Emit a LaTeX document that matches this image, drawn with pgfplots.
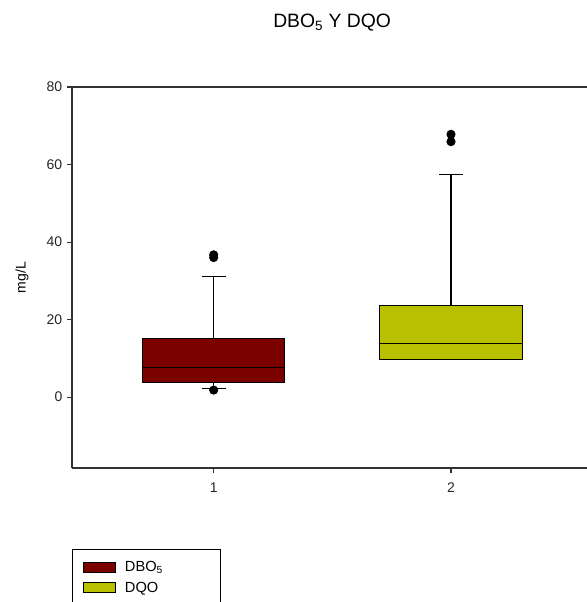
\documentclass[border=0pt]{standalone}
\usepackage{pgfplots}
\pgfplotsset{compat=1.18}
\usepgfplotslibrary{statistics}
\usepackage{fontspec}
\setmainfont{Liberation Sans}
\definecolor{dbo}{RGB}{123,0,0}
\definecolor{dqo}{RGB}{184,192,0}
\definecolor{axgray}{RGB}{50,50,50}
\begin{document}
\begin{tikzpicture}
\begin{axis}[
  name=ax,
  scale only axis,
  width=386.25pt, height=285.75pt,
  xmin=0.403, xmax=2.573,
  ymin=-18.3, ymax=80,
  axis y line*=left,
  axis line style={axgray, line width=1.1pt},
  xtick={1,2}, ytick={0,20,40,60,80},
  xtick pos=bottom, ytick pos=left,
  tick align=outside,
  major tick length=3.75pt,
  tick style={axgray, line width=0.8pt},
  /pgf/number format/assume math mode=true,
  tick label style={font=\fontsize{10.5}{12}\selectfont, text=black!85},
  xticklabel style={yshift=-4pt},
  title={DBO\textsubscript{5} Y DQO},
  title style={at={(0.5,1)}, anchor=center, yshift=42pt, xshift=2pt, font=\fontsize{14.5}{16}\selectfont},
  ylabel={mg/L},
  ylabel style={at={(axis description cs:0,0.5)}, anchor=center, yshift=37.5pt, font=\fontsize{10.5}{12}\selectfont},
  boxplot/draw direction=y,
  legend style={at={(0,0)}, anchor=north west, yshift=-60.75pt, draw=black, line width=0.8pt,
    font=\fontsize{11}{13}\selectfont, inner xsep=7.5pt, inner ysep=7pt, row sep=2pt,
    nodes={text width=62pt},
    /tikz/every odd column/.append style={column sep=5pt}},
  legend cell align=left,
]
\addplot[draw=black, line width=0.8pt, fill=dbo, mark=*, mark size=3pt, mark options={fill=black, draw=black},
  boxplot prepared={lower whisker=2.1, lower quartile=3.8, median=7.7, upper quartile=15, upper whisker=31,
    draw position=1, box extend=0.6, whisker extend=0.1},
  legend image code/.code={\draw[draw=black, line width=0.8pt, fill=dbo] (0pt,-3.75pt) rectangle (24pt,3.75pt);}]
  table[row sep=\\, y index=0] {36.7\\ 36\\ 1.8\\};
\addlegendentry{DBO\textsubscript{5}}
\addplot[draw=black, line width=0.8pt, fill=dqo, mark=*, mark size=3pt, mark options={fill=black, draw=black},
  boxplot prepared={lower whisker=9.7, lower quartile=9.7, median=13.75, upper quartile=23.7, upper whisker=57.5,
    draw position=2, box extend=0.6, whisker extend=0.1},
  legend image code/.code={\draw[draw=black, line width=0.8pt, fill=dqo] (0pt,-3.75pt) rectangle (24pt,3.75pt);}]
  table[row sep=\\, y index=0] {67.8\\ 65.9\\};
\addlegendentry{DQO}
\end{axis}
\pgfresetboundingbox
\path[use as bounding box] ([shift={(-54pt,-100.5pt)}]ax.south west) rectangle ([shift={(0pt,65.25pt)}]ax.north east);
\end{tikzpicture}
\end{document}
